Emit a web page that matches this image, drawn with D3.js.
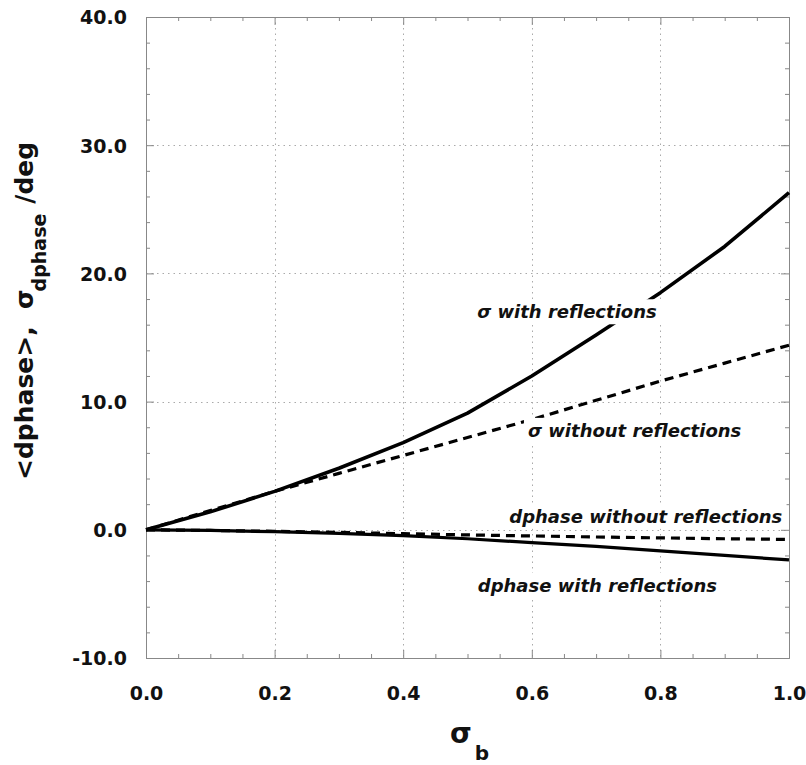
<!DOCTYPE html>
<html>
<head>
<meta charset="utf-8">
<script src="https://cdn.jsdelivr.net/npm/d3@7"></script>
<style>
  html, body { margin: 0; padding: 0; background: #fff; }
  svg { display: block; }
  text { font-family: "DejaVu Sans", Verdana, sans-serif; }
</style>
</head>
<body>
<svg id="chart" width="806" height="765"></svg>
<script>
// ---- data ----
const sigmaB = [0.0, 0.1, 0.2, 0.3, 0.4, 0.5, 0.6, 0.7, 0.8, 0.9, 1.0];
const sigmaWithRefl    = [0.0, 1.4, 3.0, 4.8, 6.8, 9.1, 12.0, 15.2, 18.5, 22.1, 26.3];
const sigmaWithoutRefl = [0.0, 1.5, 3.0, 4.4, 5.8, 7.2, 8.6, 10.1, 11.6, 13.0, 14.4];
const dphaseWithoutRefl = [0.0, -0.05, -0.12, -0.2, -0.3, -0.4, -0.48, -0.56, -0.63, -0.7, -0.75];
const dphaseWithRefl    = [0.0, -0.05, -0.15, -0.28, -0.45, -0.7, -1.0, -1.3, -1.65, -2.0, -2.35];
const xTicks = [0.0, 0.2, 0.4, 0.6, 0.8, 1.0];
const yTicks = [-10, 0, 10, 20, 30, 40];
const labelTexts = ["\u03c3 with reflections", "\u03c3 without reflections", "dphase without reflections", "dphase with reflections"];
const labelAnchorX = [0.515, 0.594, 0.565, 0.516];
const labelAnchorY = [16.5, 7.25, 0.55, -4.84];

(function () {
// ---- layout ----
const svg = d3.select("#chart");
const L = 146, R = 789, T = 17, B = 658;
const x = d3.scaleLinear().domain([0, 1]).range([L, R]);
const y = d3.scaleLinear().domain([-10, 40]).range([B, T]);

// grid
const grid = svg.append("g").attr("stroke", "#aaa").attr("stroke-width", 1).attr("stroke-dasharray", "1.5,4");
grid.selectAll(".gx").data(xTicks.slice(1, -1)).join("line")
  .attr("x1", d => Math.round(x(d)) + 0.5).attr("x2", d => Math.round(x(d)) + 0.5)
  .attr("y1", T).attr("y2", B);
grid.selectAll(".gy").data(yTicks.slice(1, -1)).join("line")
  .attr("y1", d => Math.round(y(d)) + 0.5).attr("y2", d => Math.round(y(d)) + 0.5)
  .attr("x1", L).attr("x2", R);

// axes (inward ticks on all four sides)
const minorX = d3.range(0, 1.0001, 0.05).filter(v => Math.abs(v * 5 - Math.round(v * 5)) > 1e-6);
const minorY = d3.range(-10, 40.001, 2).filter(v => v % 10 !== 0);
function styleAxis(g) {
  g.select(".domain").attr("stroke", "#888");
  g.selectAll(".tick line").attr("stroke", "#888");
}
const f1 = d3.format(".1f");
const fmt = v => f1(v).replace("\u2212", "-");
const axB = svg.append("g").attr("transform", `translate(0,${B})`)
  .call(d3.axisBottom(x).tickValues(xTicks).tickSize(-8).tickSizeOuter(0).tickFormat(fmt)).call(styleAxis);
axB.selectAll(".tick text").attr("y", 42).attr("dy", 0)
  .attr("font-family", "DejaVu Sans, sans-serif").attr("font-weight", "bold").attr("font-size", 19).attr("fill", "#111");
svg.append("g").attr("transform", `translate(0,${B})`)
  .call(d3.axisBottom(x).tickValues(minorX).tickSize(-4).tickSizeOuter(0).tickFormat("")).call(styleAxis);
svg.append("g").attr("transform", `translate(0,${T})`)
  .call(d3.axisTop(x).tickValues(xTicks).tickSize(-8).tickSizeOuter(0).tickFormat("")).call(styleAxis);
svg.append("g").attr("transform", `translate(0,${T})`)
  .call(d3.axisTop(x).tickValues(minorX).tickSize(-4).tickSizeOuter(0).tickFormat("")).call(styleAxis);
const axL = svg.append("g").attr("transform", `translate(${L},0)`)
  .call(d3.axisLeft(y).tickValues(yTicks).tickSize(-8).tickSizeOuter(0).tickFormat(fmt)).call(styleAxis);
axL.selectAll(".tick text").attr("x", -19).attr("dy", "0.36em")
  .attr("font-family", "DejaVu Sans, sans-serif").attr("font-weight", "bold").attr("font-size", 19).attr("fill", "#111");
svg.append("g").attr("transform", `translate(${L},0)`)
  .call(d3.axisLeft(y).tickValues(minorY).tickSize(-4).tickSizeOuter(0).tickFormat("")).call(styleAxis);
svg.append("g").attr("transform", `translate(${R},0)`)
  .call(d3.axisRight(y).tickValues(yTicks).tickSize(-8).tickSizeOuter(0).tickFormat("")).call(styleAxis);
svg.append("g").attr("transform", `translate(${R},0)`)
  .call(d3.axisRight(y).tickValues(minorY).tickSize(-4).tickSizeOuter(0).tickFormat("")).call(styleAxis);

// series
const series = [
  { values: sigmaWithRefl, dash: null, width: 3.6 },
  { values: sigmaWithoutRefl, dash: "9,6", width: 3.2 },
  { values: dphaseWithoutRefl, dash: "9,6", width: 3.2 },
  { values: dphaseWithRefl, dash: null, width: 3.2 }
];
const line = d3.line().x((d, i) => x(sigmaB[i])).y(d => y(d));
svg.append("g").selectAll("path").data(series).join("path")
  .attr("d", d => line(d.values))
  .attr("fill", "none").attr("stroke", "#000")
  .attr("stroke-width", d => d.width)
  .attr("stroke-dasharray", d => d.dash)
  .attr("stroke-linejoin", "round");

// annotations with white backgrounds
const ann = svg.append("g");
labelTexts.forEach((t, i) => {
  const g = ann.append("g");
  const rect = g.append("rect").attr("fill", "#fff");
  const txt = g.append("text")
    .attr("x", x(labelAnchorX[i])).attr("y", y(labelAnchorY[i]))
    .attr("font-size", 18).attr("font-weight", "bold").attr("font-style", "italic")
    .attr("fill", "#111").text(t);
  const bb = txt.node().getBBox();
  rect.attr("x", bb.x - 4).attr("y", bb.y - 2).attr("width", bb.width + 8).attr("height", bb.height + 4);
});

// y axis title
const yt = svg.append("text")
  .attr("transform", "translate(33,480) rotate(-90)")
  .attr("font-weight", "bold").attr("font-size", 25).attr("fill", "#111");
yt.append("tspan").text("<dphase>,\u00a0\u00a0\u03c3");
yt.append("tspan").attr("font-size", 19).attr("dy", 13).attr("dx", -2).text("dphase");
yt.append("tspan").attr("dy", -13).attr("dx", 10).text("/deg");

// x axis title
const xt = svg.append("text").attr("x", 450).attr("y", 743)
  .attr("font-weight", "bold").attr("font-size", 28).attr("fill", "#111");
xt.append("tspan").text("\u03c3");
xt.append("tspan").attr("font-size", 20).attr("dy", 17).attr("dx", 3).text("b");
})();
</script>
</body>
</html>
